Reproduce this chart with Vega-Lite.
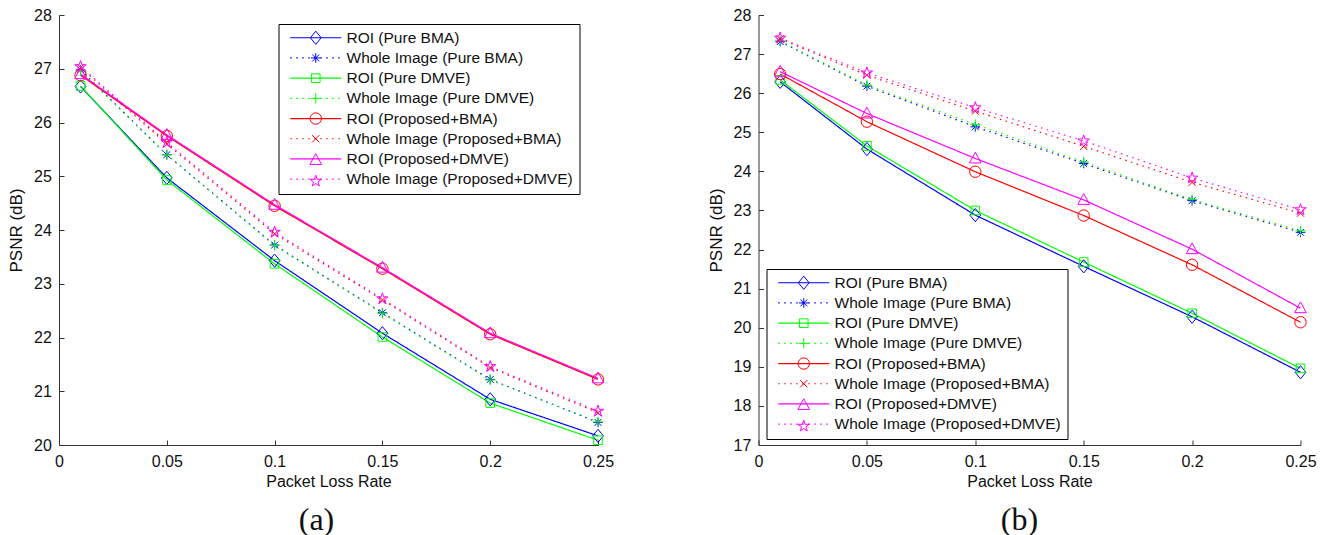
{
  "$schema": "https://vega.github.io/schema/vega-lite/v6.json",
  "padding": {"left": 7, "top": 7, "right": 0, "bottom": 0},
  "background": "white",
  "config": {
    "view": {"stroke": null},
    "font": "Liberation Sans",
    "axis": {
      "grid": false,
      "domainColor": "#333333",
      "tickColor": "#333333",
      "domainWidth": 1,
      "tickWidth": 1,
      "tickSize": -5,
      "labelFont": "Liberation Sans",
      "labelFontSize": 16,
      "labelColor": "#111111",
      "titleFont": "Liberation Sans",
      "titleFontSize": 16,
      "titleFontWeight": "normal",
      "titleColor": "#111111"
    },
    "axisX": {"labelPadding": 13, "titlePadding": 4, "labelFlush": false},
    "axisY": {"labelPadding": 12.6, "titlePadding": 8, "titleFontSize": 17},
    "title": {"font": "Liberation Serif", "fontSize": 32, "fontWeight": "normal", "color": "#111111"}
  },
  "datasets": {
    "a": [
      {"s": "ROI (Pure BMA)", "rate": 0.01, "psnr": 26.67},
      {"s": "Whole Image (Pure BMA)", "rate": 0.01, "psnr": 26.98},
      {"s": "ROI (Pure DMVE)", "rate": 0.01, "psnr": 26.68},
      {"s": "Whole Image (Pure DMVE)", "rate": 0.01, "psnr": 26.96},
      {"s": "ROI (Proposed+BMA)", "rate": 0.01, "psnr": 26.88},
      {"s": "Whole Image (Proposed+BMA)", "rate": 0.01, "psnr": 27.02},
      {"s": "ROI (Proposed+DMVE)", "rate": 0.01, "psnr": 26.9},
      {"s": "Whole Image (Proposed+DMVE)", "rate": 0.01, "psnr": 27.04},
      {"s": "ROI (Pure BMA)", "rate": 0.05, "psnr": 24.97},
      {"s": "Whole Image (Pure BMA)", "rate": 0.05, "psnr": 25.4},
      {"s": "ROI (Pure DMVE)", "rate": 0.05, "psnr": 24.93},
      {"s": "Whole Image (Pure DMVE)", "rate": 0.05, "psnr": 25.4},
      {"s": "ROI (Proposed+BMA)", "rate": 0.05, "psnr": 25.75},
      {"s": "Whole Image (Proposed+BMA)", "rate": 0.05, "psnr": 25.6},
      {"s": "ROI (Proposed+DMVE)", "rate": 0.05, "psnr": 25.77},
      {"s": "Whole Image (Proposed+DMVE)", "rate": 0.05, "psnr": 25.63},
      {"s": "ROI (Pure BMA)", "rate": 0.1, "psnr": 23.43},
      {"s": "Whole Image (Pure BMA)", "rate": 0.1, "psnr": 23.72},
      {"s": "ROI (Pure DMVE)", "rate": 0.1, "psnr": 23.37},
      {"s": "Whole Image (Pure DMVE)", "rate": 0.1, "psnr": 23.71},
      {"s": "ROI (Proposed+BMA)", "rate": 0.1, "psnr": 24.45},
      {"s": "Whole Image (Proposed+BMA)", "rate": 0.1, "psnr": 23.93},
      {"s": "ROI (Proposed+DMVE)", "rate": 0.1, "psnr": 24.47},
      {"s": "Whole Image (Proposed+DMVE)", "rate": 0.1, "psnr": 23.96},
      {"s": "ROI (Pure BMA)", "rate": 0.15, "psnr": 22.08},
      {"s": "Whole Image (Pure BMA)", "rate": 0.15, "psnr": 22.46},
      {"s": "ROI (Pure DMVE)", "rate": 0.15, "psnr": 22.01},
      {"s": "Whole Image (Pure DMVE)", "rate": 0.15, "psnr": 22.45},
      {"s": "ROI (Proposed+BMA)", "rate": 0.15, "psnr": 23.28},
      {"s": "Whole Image (Proposed+BMA)", "rate": 0.15, "psnr": 22.7},
      {"s": "ROI (Proposed+DMVE)", "rate": 0.15, "psnr": 23.3},
      {"s": "Whole Image (Proposed+DMVE)", "rate": 0.15, "psnr": 22.72},
      {"s": "ROI (Pure BMA)", "rate": 0.2, "psnr": 20.85},
      {"s": "Whole Image (Pure BMA)", "rate": 0.2, "psnr": 21.22},
      {"s": "ROI (Pure DMVE)", "rate": 0.2, "psnr": 20.78},
      {"s": "Whole Image (Pure DMVE)", "rate": 0.2, "psnr": 21.21},
      {"s": "ROI (Proposed+BMA)", "rate": 0.2, "psnr": 22.06},
      {"s": "Whole Image (Proposed+BMA)", "rate": 0.2, "psnr": 21.44},
      {"s": "ROI (Proposed+DMVE)", "rate": 0.2, "psnr": 22.08},
      {"s": "Whole Image (Proposed+DMVE)", "rate": 0.2, "psnr": 21.46},
      {"s": "ROI (Pure BMA)", "rate": 0.25, "psnr": 20.17},
      {"s": "Whole Image (Pure BMA)", "rate": 0.25, "psnr": 20.42},
      {"s": "ROI (Pure DMVE)", "rate": 0.25, "psnr": 20.09},
      {"s": "Whole Image (Pure DMVE)", "rate": 0.25, "psnr": 20.43},
      {"s": "ROI (Proposed+BMA)", "rate": 0.25, "psnr": 21.22},
      {"s": "Whole Image (Proposed+BMA)", "rate": 0.25, "psnr": 20.6},
      {"s": "ROI (Proposed+DMVE)", "rate": 0.25, "psnr": 21.24},
      {"s": "Whole Image (Proposed+DMVE)", "rate": 0.25, "psnr": 20.63}
    ],
    "b": [
      {"s": "ROI (Pure BMA)", "rate": 0.01, "psnr": 26.29},
      {"s": "Whole Image (Pure BMA)", "rate": 0.01, "psnr": 27.32},
      {"s": "ROI (Pure DMVE)", "rate": 0.01, "psnr": 26.34},
      {"s": "Whole Image (Pure DMVE)", "rate": 0.01, "psnr": 27.34},
      {"s": "ROI (Proposed+BMA)", "rate": 0.01, "psnr": 26.49},
      {"s": "Whole Image (Proposed+BMA)", "rate": 0.01, "psnr": 27.39},
      {"s": "ROI (Proposed+DMVE)", "rate": 0.01, "psnr": 26.55},
      {"s": "Whole Image (Proposed+DMVE)", "rate": 0.01, "psnr": 27.41},
      {"s": "ROI (Pure BMA)", "rate": 0.05, "psnr": 24.57},
      {"s": "Whole Image (Pure BMA)", "rate": 0.05, "psnr": 26.18},
      {"s": "ROI (Pure DMVE)", "rate": 0.05, "psnr": 24.65},
      {"s": "Whole Image (Pure DMVE)", "rate": 0.05, "psnr": 26.21},
      {"s": "ROI (Proposed+BMA)", "rate": 0.05, "psnr": 25.27},
      {"s": "Whole Image (Proposed+BMA)", "rate": 0.05, "psnr": 26.46},
      {"s": "ROI (Proposed+DMVE)", "rate": 0.05, "psnr": 25.48},
      {"s": "Whole Image (Proposed+DMVE)", "rate": 0.05, "psnr": 26.52},
      {"s": "ROI (Pure BMA)", "rate": 0.1, "psnr": 22.88},
      {"s": "Whole Image (Pure BMA)", "rate": 0.1, "psnr": 25.14},
      {"s": "ROI (Pure DMVE)", "rate": 0.1, "psnr": 23.0},
      {"s": "Whole Image (Pure DMVE)", "rate": 0.1, "psnr": 25.2},
      {"s": "ROI (Proposed+BMA)", "rate": 0.1, "psnr": 23.99},
      {"s": "Whole Image (Proposed+BMA)", "rate": 0.1, "psnr": 25.54},
      {"s": "ROI (Proposed+DMVE)", "rate": 0.1, "psnr": 24.33},
      {"s": "Whole Image (Proposed+DMVE)", "rate": 0.1, "psnr": 25.63},
      {"s": "ROI (Pure BMA)", "rate": 0.15, "psnr": 21.57},
      {"s": "Whole Image (Pure BMA)", "rate": 0.15, "psnr": 24.2},
      {"s": "ROI (Pure DMVE)", "rate": 0.15, "psnr": 21.68},
      {"s": "Whole Image (Pure DMVE)", "rate": 0.15, "psnr": 24.24},
      {"s": "ROI (Proposed+BMA)", "rate": 0.15, "psnr": 22.87},
      {"s": "Whole Image (Proposed+BMA)", "rate": 0.15, "psnr": 24.64},
      {"s": "ROI (Proposed+DMVE)", "rate": 0.15, "psnr": 23.27},
      {"s": "Whole Image (Proposed+DMVE)", "rate": 0.15, "psnr": 24.78},
      {"s": "ROI (Pure BMA)", "rate": 0.2, "psnr": 20.28},
      {"s": "Whole Image (Pure BMA)", "rate": 0.2, "psnr": 23.25},
      {"s": "ROI (Pure DMVE)", "rate": 0.2, "psnr": 20.37},
      {"s": "Whole Image (Pure DMVE)", "rate": 0.2, "psnr": 23.28},
      {"s": "ROI (Proposed+BMA)", "rate": 0.2, "psnr": 21.61},
      {"s": "Whole Image (Proposed+BMA)", "rate": 0.2, "psnr": 23.72},
      {"s": "ROI (Proposed+DMVE)", "rate": 0.2, "psnr": 22.01},
      {"s": "Whole Image (Proposed+DMVE)", "rate": 0.2, "psnr": 23.83},
      {"s": "ROI (Pure BMA)", "rate": 0.25, "psnr": 18.86},
      {"s": "Whole Image (Pure BMA)", "rate": 0.25, "psnr": 22.44},
      {"s": "ROI (Pure DMVE)", "rate": 0.25, "psnr": 18.96},
      {"s": "Whole Image (Pure DMVE)", "rate": 0.25, "psnr": 22.48},
      {"s": "ROI (Proposed+BMA)", "rate": 0.25, "psnr": 20.14},
      {"s": "Whole Image (Proposed+BMA)", "rate": 0.25, "psnr": 22.93},
      {"s": "ROI (Proposed+DMVE)", "rate": 0.25, "psnr": 20.5},
      {"s": "Whole Image (Proposed+DMVE)", "rate": 0.25, "psnr": 23.02}
    ]
  },
  "spacing": 92.5,
  "resolve": {
    "scale": {"color": "independent", "shape": "independent", "strokeDash": "independent"},
    "legend": {"color": "independent", "shape": "independent", "strokeDash": "independent"}
  },
  "hconcat": [
    {
      "width": 539,
      "height": 430,
      "data": {"name": "a"},
      "title": {"text": "(a)", "orient": "bottom", "anchor": "middle", "frame": "group", "dx": -12, "offset": 16},
      "encoding": {
        "x": {"field": "rate", "type": "quantitative", "scale": {"domain": [0, 0.25], "nice": false, "zero": false},
              "axis": {"values": [0, 0.05, 0.1, 0.15, 0.2, 0.25], "format": "~g", "title": "Packet Loss Rate"}},
        "y": {"field": "psnr", "type": "quantitative", "scale": {"domain": [20, 28], "nice": false, "zero": false},
              "axis": {"values": [20, 21, 22, 23, 24, 25, 26, 27, 28], "format": "d", "title": "PSNR (dB)"}}
      },
      "resolve": {
        "scale": {"color": "independent", "shape": "independent", "strokeDash": "independent"},
        "legend": {"color": "independent", "shape": "independent", "strokeDash": "independent"}
      },
      "layer": [
        {
          "mark": {"type": "line", "strokeWidth": 1.2},
          "encoding": {
            "color": {"field": "s", "type": "nominal",
              "scale": {"domain": ["ROI (Pure BMA)", "Whole Image (Pure BMA)", "ROI (Pure DMVE)", "Whole Image (Pure DMVE)", "ROI (Proposed+BMA)", "Whole Image (Proposed+BMA)", "ROI (Proposed+DMVE)", "Whole Image (Proposed+DMVE)"],
                        "range": ["#0000ff", "#0000ff", "#00ff00", "#00ff00", "#ff0000", "#ff0000", "#ff00ff", "#ff00ff"]},
              "legend": {"orient": "none", "legendX": 219.5, "legendY": 9, "title": null, "symbolType": "M-4.25,0H4.25", "symbolSize": 144, "symbolStrokeWidth": 1.2, "symbolOffset": 23.5, "labelOffset": 23, "labelFontSize": 15.5, "labelFont": "Liberation Sans", "labelColor": "#111111", "labelLimit": 0, "padding": 6, "rowPadding": 3.2, "strokeColor": "#000000", "fillColor": "#ffffff"}},
            "strokeDash": {"field": "s", "type": "nominal",
              "scale": {"domain": ["ROI (Pure BMA)", "Whole Image (Pure BMA)", "ROI (Pure DMVE)", "Whole Image (Pure DMVE)", "ROI (Proposed+BMA)", "Whole Image (Proposed+BMA)", "ROI (Proposed+DMVE)", "Whole Image (Proposed+DMVE)"],
                        "range": [[1, 0], [1.5, 4.5], [1, 0], [1.5, 4.5], [1, 0], [1.5, 4.5], [1, 0], [1.5, 4.5]]},
              "legend": {"orient": "none", "legendX": 219.5, "legendY": 9, "title": null, "symbolType": "M-4.25,0H4.25", "symbolSize": 144, "symbolStrokeWidth": 1.2, "symbolOffset": 23.5, "labelOffset": 23, "labelFontSize": 15.5, "labelFont": "Liberation Sans", "labelColor": "#111111", "labelLimit": 0, "padding": 6, "rowPadding": 3.2, "strokeColor": "#000000", "fillColor": "#ffffff"}}
          }
        },
        {
          "mark": {"type": "point", "filled": false, "strokeWidth": 1, "size": 144, "opacity": 1},
          "encoding": {
            "color": {"field": "s", "type": "nominal",
              "scale": {"domain": ["ROI (Pure BMA)", "Whole Image (Pure BMA)", "ROI (Pure DMVE)", "Whole Image (Pure DMVE)", "ROI (Proposed+BMA)", "Whole Image (Proposed+BMA)", "ROI (Proposed+DMVE)", "Whole Image (Proposed+DMVE)"],
                        "range": ["#0000ff", "#0000ff", "#00ff00", "#00ff00", "#ff0000", "#ff0000", "#ff00ff", "#ff00ff"]},
              "legend": {"orient": "none", "legendX": 219.5, "legendY": 9, "title": null, "symbolSize": 144, "symbolStrokeWidth": 1, "symbolOffset": 23.5, "labelOffset": 23, "labelFontSize": 15.5, "labelExpr": "''", "labelLimit": 0, "padding": 6, "rowPadding": 3.2}},
            "shape": {"field": "s", "type": "nominal",
              "scale": {"domain": ["ROI (Pure BMA)", "Whole Image (Pure BMA)", "ROI (Pure DMVE)", "Whole Image (Pure DMVE)", "ROI (Proposed+BMA)", "Whole Image (Proposed+BMA)", "ROI (Proposed+DMVE)", "Whole Image (Proposed+DMVE)"],
                        "range": [
                          "M0,-1.1L0.9,0L0,1.1L-0.9,0Z",
                          "M-0.8,0H0.8M0,-0.8V0.8M-0.57,-0.57L0.57,0.57M-0.57,0.57L0.57,-0.57",
                          "M-0.72,-0.72H0.72V0.72H-0.72Z",
                          "M-0.85,0H0.85M0,-0.85V0.85",
                          "M0.95,0A0.95,0.95,0,1,1,-0.95,0A0.95,0.95,0,1,1,0.95,0Z",
                          "M-0.6,-0.6L0.6,0.6M-0.6,0.6L0.6,-0.6",
                          "M0,-1.05L0.97,0.75L-0.97,0.75Z",
                          "M0,-1L0.2245,-0.309L0.951,-0.309L0.3633,0.118L0.5878,0.809L0,0.382L-0.5878,0.809L-0.3633,0.118L-0.951,-0.309L-0.2245,-0.309Z"
                        ]},
              "legend": {"orient": "none", "legendX": 219.5, "legendY": 9, "title": null, "symbolSize": 144, "symbolStrokeWidth": 1, "symbolOffset": 23.5, "labelOffset": 23, "labelFontSize": 15.5, "labelExpr": "''", "labelLimit": 0, "padding": 6, "rowPadding": 3.2}}
          }
        }
      ]
    },
    {
      "width": 542,
      "height": 430,
      "data": {"name": "b"},
      "title": {"text": "(b)", "orient": "bottom", "anchor": "middle", "frame": "group", "dx": -10, "offset": 16},
      "encoding": {
        "x": {"field": "rate", "type": "quantitative", "scale": {"domain": [0, 0.25], "nice": false, "zero": false},
              "axis": {"values": [0, 0.05, 0.1, 0.15, 0.2, 0.25], "format": "~g", "title": "Packet Loss Rate"}},
        "y": {"field": "psnr", "type": "quantitative", "scale": {"domain": [17, 28], "nice": false, "zero": false},
              "axis": {"values": [17, 18, 19, 20, 21, 22, 23, 24, 25, 26, 27, 28], "format": "d", "title": "PSNR (dB)"}}
      },
      "resolve": {
        "scale": {"color": "independent", "shape": "independent", "strokeDash": "independent"},
        "legend": {"color": "independent", "shape": "independent", "strokeDash": "independent"}
      },
      "layer": [
        {
          "mark": {"type": "line", "strokeWidth": 1.2},
          "encoding": {
            "color": {"field": "s", "type": "nominal",
              "scale": {"domain": ["ROI (Pure BMA)", "Whole Image (Pure BMA)", "ROI (Pure DMVE)", "Whole Image (Pure DMVE)", "ROI (Proposed+BMA)", "Whole Image (Proposed+BMA)", "ROI (Proposed+DMVE)", "Whole Image (Proposed+DMVE)"],
                        "range": ["#0000ff", "#0000ff", "#00ff00", "#00ff00", "#ff0000", "#ff0000", "#ff00ff", "#ff00ff"]},
              "legend": {"orient": "none", "legendX": 8, "legendY": 254, "title": null, "symbolType": "M-4.25,0H4.25", "symbolSize": 144, "symbolStrokeWidth": 1.2, "symbolOffset": 23.5, "labelOffset": 23, "labelFontSize": 15.5, "labelFont": "Liberation Sans", "labelColor": "#111111", "labelLimit": 0, "padding": 6, "rowPadding": 3.2, "strokeColor": "#000000", "fillColor": "#ffffff"}},
            "strokeDash": {"field": "s", "type": "nominal",
              "scale": {"domain": ["ROI (Pure BMA)", "Whole Image (Pure BMA)", "ROI (Pure DMVE)", "Whole Image (Pure DMVE)", "ROI (Proposed+BMA)", "Whole Image (Proposed+BMA)", "ROI (Proposed+DMVE)", "Whole Image (Proposed+DMVE)"],
                        "range": [[1, 0], [1.5, 4.5], [1, 0], [1.5, 4.5], [1, 0], [1.5, 4.5], [1, 0], [1.5, 4.5]]},
              "legend": {"orient": "none", "legendX": 8, "legendY": 254, "title": null, "symbolType": "M-4.25,0H4.25", "symbolSize": 144, "symbolStrokeWidth": 1.2, "symbolOffset": 23.5, "labelOffset": 23, "labelFontSize": 15.5, "labelFont": "Liberation Sans", "labelColor": "#111111", "labelLimit": 0, "padding": 6, "rowPadding": 3.2, "strokeColor": "#000000", "fillColor": "#ffffff"}}
          }
        },
        {
          "mark": {"type": "point", "filled": false, "strokeWidth": 1, "size": 144, "opacity": 1},
          "encoding": {
            "color": {"field": "s", "type": "nominal",
              "scale": {"domain": ["ROI (Pure BMA)", "Whole Image (Pure BMA)", "ROI (Pure DMVE)", "Whole Image (Pure DMVE)", "ROI (Proposed+BMA)", "Whole Image (Proposed+BMA)", "ROI (Proposed+DMVE)", "Whole Image (Proposed+DMVE)"],
                        "range": ["#0000ff", "#0000ff", "#00ff00", "#00ff00", "#ff0000", "#ff0000", "#ff00ff", "#ff00ff"]},
              "legend": {"orient": "none", "legendX": 8, "legendY": 254, "title": null, "symbolSize": 144, "symbolStrokeWidth": 1, "symbolOffset": 23.5, "labelOffset": 23, "labelFontSize": 15.5, "labelExpr": "''", "labelLimit": 0, "padding": 6, "rowPadding": 3.2}},
            "shape": {"field": "s", "type": "nominal",
              "scale": {"domain": ["ROI (Pure BMA)", "Whole Image (Pure BMA)", "ROI (Pure DMVE)", "Whole Image (Pure DMVE)", "ROI (Proposed+BMA)", "Whole Image (Proposed+BMA)", "ROI (Proposed+DMVE)", "Whole Image (Proposed+DMVE)"],
                        "range": [
                          "M0,-1.1L0.9,0L0,1.1L-0.9,0Z",
                          "M-0.8,0H0.8M0,-0.8V0.8M-0.57,-0.57L0.57,0.57M-0.57,0.57L0.57,-0.57",
                          "M-0.72,-0.72H0.72V0.72H-0.72Z",
                          "M-0.85,0H0.85M0,-0.85V0.85",
                          "M0.95,0A0.95,0.95,0,1,1,-0.95,0A0.95,0.95,0,1,1,0.95,0Z",
                          "M-0.6,-0.6L0.6,0.6M-0.6,0.6L0.6,-0.6",
                          "M0,-1.05L0.97,0.75L-0.97,0.75Z",
                          "M0,-1L0.2245,-0.309L0.951,-0.309L0.3633,0.118L0.5878,0.809L0,0.382L-0.5878,0.809L-0.3633,0.118L-0.951,-0.309L-0.2245,-0.309Z"
                        ]},
              "legend": {"orient": "none", "legendX": 8, "legendY": 254, "title": null, "symbolSize": 144, "symbolStrokeWidth": 1, "symbolOffset": 23.5, "labelOffset": 23, "labelFontSize": 15.5, "labelExpr": "''", "labelLimit": 0, "padding": 6, "rowPadding": 3.2}}
          }
        }
      ]
    }
  ]
}
